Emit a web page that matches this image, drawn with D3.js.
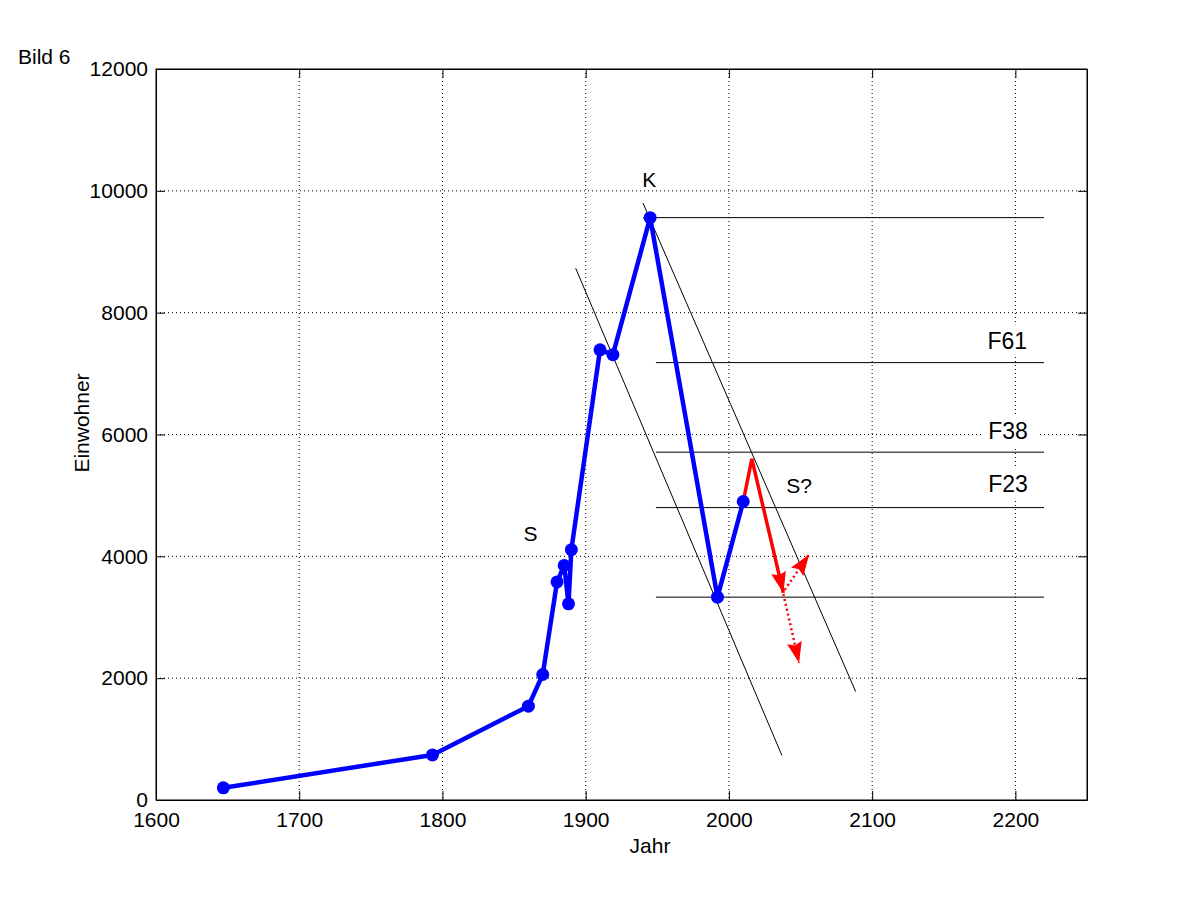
<!DOCTYPE html>
<html>
<head>
<meta charset="utf-8">
<script src="https://cdn.jsdelivr.net/npm/d3@7"></script>
<style>
    body { margin: 0; background: #fff; }
    text { font-family: "Liberation Sans", Arial, Helvetica, sans-serif; }
</style>
</head>
<body>
<div id="Bild6"></div>
<script>
// ----------------
// DATA
// ----------------
const years = [1647, 1793, 1860, 1870, 1880, 1885, 1888, 1890, 1910, 1919, 1945, 1992, 2010];
const einwohner = [200, 740, 1540, 2060, 3580, 3850, 3220, 4110, 7390, 7310, 9560, 3330, 4900];

// red forecast: last point -> peak -> arrow tip
const forecastYears = [2010, 2016, 2038];
const forecastValues = [4900, 5600, 3400];

// dotted alternatives [from, to]
const dottedArrows = [
    [[2038, 3380], [2049, 2250]],
    [[2039, 3450], [2056, 4030]]
];

// horizontal levels (K, F61, F38, F23, bottom)
const levelValues = [9560, 7180, 5710, 4800, 3330];
const levelStart = [1940, 1949, 1949, 1949, 1949];
const levelEnd = 2220;

// parallel trend lines
const trendLines = [
    [[1893, 8730], [2037, 730]],
    [[1940, 9800], [2088.5, 1780]]
];

// labels in data coordinates (left / baseline)
const labels = [
    { text: "K", year: 1939.5, value: 10060, size: 21, box: false },
    { text: "S", year: 1856.5, value: 4250, size: 21, box: false },
    { text: "S?", year: 2040, value: 5045, size: 21, box: false },
    { text: "F61", year: 2180.5, value: 7400, size: 23, box: true },
    { text: "F38", year: 2181, value: 5920, size: 23, box: true },
    { text: "F23", year: 2181, value: 5060, size: 23, box: true }
];

const xTicks = [1600, 1700, 1800, 1900, 2000, 2100, 2200];
const yTicks = [0, 2000, 4000, 6000, 8000, 10000, 12000];

// ----------------
// LAYOUT
// ----------------
const margin = { top: 69, right: 114, bottom: 100, left: 156 },
    width = 1201 - margin.left - margin.right,
    height = 900 - margin.top - margin.bottom;

const svgRoot = d3.select("#Bild6")
    .append("svg")
    .attr("width", 1201)
    .attr("height", 900);

const svg = svgRoot.append("g")
    .attr("transform", `translate(${margin.left},${margin.top})`);

const x = d3.scaleLinear().domain([1600, 2250]).range([0, width]);
const y = d3.scaleLinear().domain([0, 12000]).range([height, 0]);

const fontSize = 21;

// grid
svg.append("g")
    .selectAll("line")
    .data(xTicks.slice(1))
    .join("line")
    .attr("x1", d => x(d)).attr("x2", d => x(d))
    .attr("y1", 0).attr("y2", height)
    .attr("stroke", "#000").attr("stroke-width", 1)
    .attr("stroke-dasharray", "1,3");
svg.append("g")
    .selectAll("line")
    .data(yTicks.slice(1, -1))
    .join("line")
    .attr("x1", 0).attr("x2", width)
    .attr("y1", d => y(d)).attr("y2", d => y(d))
    .attr("stroke", "#000").attr("stroke-width", 1)
    .attr("stroke-dasharray", "1,3");

// axes (ticks inward, on all four sides)
const tickLen = 9;
svg.append("g")
    .attr("transform", `translate(0,${height})`)
    .call(d3.axisBottom(x).tickValues(xTicks).tickSize(-tickLen).tickPadding(12).tickSizeOuter(0).tickFormat(d3.format("d")));
svg.append("g")
    .call(d3.axisTop(x).tickValues(xTicks).tickSize(-tickLen).tickSizeOuter(0).tickFormat(""));
svg.append("g")
    .call(d3.axisLeft(y).tickValues(yTicks).tickSize(-tickLen).tickPadding(8).tickSizeOuter(0).tickFormat(d3.format("d")));
svg.append("g")
    .attr("transform", `translate(${width},0)`)
    .call(d3.axisRight(y).tickValues(yTicks).tickSize(-tickLen).tickSizeOuter(0).tickFormat(""));

svg.selectAll(".domain").attr("stroke", "#000");
svg.selectAll(".tick line").attr("stroke", "#000");
svg.selectAll(".tick text")
    .attr("fill", "#000")
    .style("font-size", fontSize + "px")
    .style("font-family", "'Liberation Sans', Arial, sans-serif");

svg.append("rect")
    .attr("width", width).attr("height", height)
    .attr("fill", "none").attr("stroke", "#000").attr("stroke-width", 1);

// axis titles
svg.append("text")
    .attr("x", 650 - margin.left)
    .attr("y", height + 53)
    .attr("text-anchor", "middle")
    .style("font-size", fontSize + "px")
    .text("Jahr");
svg.append("text")
    .attr("transform", `translate(${89 - margin.left},${423 - margin.top}) rotate(-90)`)
    .attr("text-anchor", "middle")
    .style("font-size", fontSize + "px")
    .text("Einwohner");

svgRoot.append("text")
    .attr("x", 18).attr("y", 64)
    .style("font-size", fontSize + "px")
    .text("Bild 6");

// horizontal levels
svg.append("g")
    .selectAll("line")
    .data(levelValues)
    .join("line")
    .attr("x1", (d, i) => x(levelStart[i]))
    .attr("x2", x(levelEnd))
    .attr("y1", d => y(d)).attr("y2", d => y(d))
    .attr("stroke", "#000").attr("stroke-width", 1);

// trend lines
svg.append("g")
    .selectAll("line")
    .data(trendLines)
    .join("line")
    .attr("x1", d => x(d[0][0])).attr("y1", d => y(d[0][1]))
    .attr("x2", d => x(d[1][0])).attr("y2", d => y(d[1][1]))
    .attr("stroke", "#000").attr("stroke-width", 1);

// arrow heads
const defs = svgRoot.append("defs");
defs.append("marker")
    .attr("id", "headRed")
    .attr("markerUnits", "userSpaceOnUse")
    .attr("markerWidth", 26).attr("markerHeight", 20)
    .attr("viewBox", "0 -10 26 20")
    .attr("refX", 21).attr("refY", 0)
    .attr("orient", "auto")
    .append("path")
    .attr("d", "M0,-7.5L21,0L0,7.5L3,0Z")
    .attr("fill", "#f00");

// population line
const pts = years.map((d, i) => [d, einwohner[i]]);
const line = d3.line().x(d => x(d[0])).y(d => y(d[1]));

// red forecast
const fc = forecastYears.map((d, i) => [d, forecastValues[i]]);
svg.append("path")
    .datum(fc)
    .attr("d", line)
    .attr("fill", "none")
    .attr("stroke", "#f00")
    .attr("stroke-width", 3.5)
    .attr("stroke-linejoin", "miter")
    .attr("marker-end", "url(#headRed)");

svg.append("g")
    .selectAll("path")
    .data(dottedArrows)
    .join("path")
    .attr("d", line)
    .attr("fill", "none")
    .attr("stroke", "#f00")
    .attr("stroke-width", 2.5)
    .attr("stroke-dasharray", "2,3")
    .attr("marker-end", "url(#headRed)");

svg.append("path")
    .datum(pts)
    .attr("d", line)
    .attr("fill", "none")
    .attr("stroke", "#00f")
    .attr("stroke-width", 4.5)
    .attr("stroke-linejoin", "round");

svg.append("g")
    .selectAll("circle")
    .data(pts)
    .join("circle")
    .attr("cx", d => x(d[0]))
    .attr("cy", d => y(d[1]))
    .attr("r", 6.5)
    .attr("fill", "#00f");

// text labels
const lab = svg.append("g")
    .selectAll("g")
    .data(labels)
    .join("g");
lab.append("text")
    .attr("x", d => x(d.year))
    .attr("y", d => y(d.value))
    .style("font-size", d => d.size + "px")
    .text(d => d.text);
lab.each(function(d) {
    if (!d.box) return;
    const g = d3.select(this);
    const bb = g.select("text").node().getBBox();
    g.insert("rect", "text")
        .attr("x", bb.x - 5)
        .attr("y", bb.y - 3)
        .attr("width", bb.width + 17)
        .attr("height", bb.height + 5)
        .attr("fill", "#fff");
});
</script>
</body>
</html>
